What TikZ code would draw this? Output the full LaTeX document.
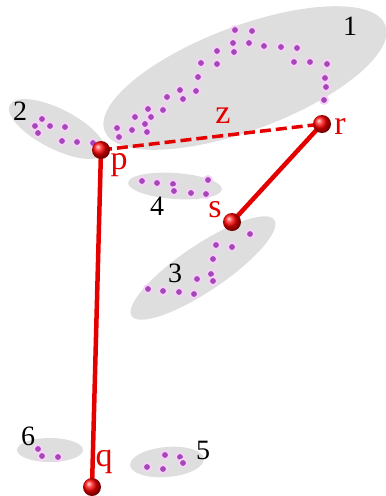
\documentclass[tikz,border=0pt]{standalone}
\usepackage{fontspec}
\setmainfont{Liberation Serif}
\usetikzlibrary{calc, positioning}

\definecolor{blobgray}{RGB}{222,222,222}
\definecolor{dotpink}{RGB}{246,210,246}
\definecolor{dotviolet}{RGB}{165,70,185}

\tikzset{
  blob/.style={fill=blobgray, draw=none},
  num/.style={font=\rmfamily\fontsize{28}{28}\selectfont, text=black, inner sep=0pt},
  ptlabel/.style={font=\rmfamily\fontsize{34}{34}\selectfont, text=red!90!black, inner sep=0pt},
  rod/.style={red!90!black, line width=4.5pt},
}

\begin{document}
\begin{tikzpicture}[x=1pt, y=-1pt]
\useasboundingbox (0,0) rectangle (386,496);
\def\ballr{9}

% clusters
\fill[blob, rotate around={20.6:(245,78)}] (245,78) ellipse (150 and 52);
\fill[blob, rotate around={-27:(57,129)}] (57,129) ellipse (53 and 20);
\fill[blob, rotate around={-4:(175,186)}] (175,186) ellipse (47 and 13);
\fill[blob, rotate around={34:(203,268)}] (203,268) ellipse (86 and 23);
\fill[blob] (50,450) ellipse (33 and 12);
\fill[blob, rotate around={5:(167,462)}] (167,462) ellipse (37 and 15);

% atoms
\foreach \x/\y in {235/30, 252/31, 233/43, 234/52, 249/43, 264/46, 281/47, 297/48,
  217/51, 201/63, 217/64, 294/62, 310/62, 327/64, 198/77, 325/78, 326/87,
  180/90, 196/91, 324/100, 167/97, 183/99, 163/110, 148/109, 151/117,
  135/117, 145/124, 117/128, 132/130, 147/132, 119/137,
  42/119, 50/126, 35/126, 65/127, 38/133, 62/141, 77/142, 93/143,
  142/181, 157/183, 173/184, 208/180, 174/191, 191/193, 206/194,
  250/234, 216/245, 232/247, 213/259, 211/274, 213/281, 197/279,
  148/289, 163/291, 179/292, 194/294,
  38/449, 42/456, 58/457,
  165/455, 180/457, 183/463, 147/467, 163/469} {
  \fill[dotpink] (\x,\y) circle (5);
  \fill[dotviolet] (\x,\y) circle (2.9);
}

\coordinate (p) at (101,150);
\coordinate (q) at (92,487);
\coordinate (r) at (322,124);
\coordinate (s) at (232,222);

% bonds
\draw[rod] (p) -- (q);
\draw[rod] (r) -- (s);
\draw[rod, line width=3.5pt, dash pattern=on 11pt off 5pt] (p) -- (r);

\foreach \c in {p,q,r,s}
  \shade[ball color=red] (\c) circle (\ballr);

\node[ptlabel] (lp) at (119,165) {p};
\node[ptlabel] (lq) at (104,462) {q};
\node[ptlabel] (lr) at (340,126) {r};
\node[ptlabel] (ls) at (215,210) {s};
\node[ptlabel] (lz) at (223,116) {z};

\node[num] (n1) at (350,26) {1};
\node[num] (n2) at (20,111) {2};
\node[num] (n3) at (175,273) {3};
\node[num] (n4) at (157,206) {4};
\node[num] (n5) at (203,450) {5};
\node[num] (n6) at (28,436) {6};
\end{tikzpicture}
\end{document}
